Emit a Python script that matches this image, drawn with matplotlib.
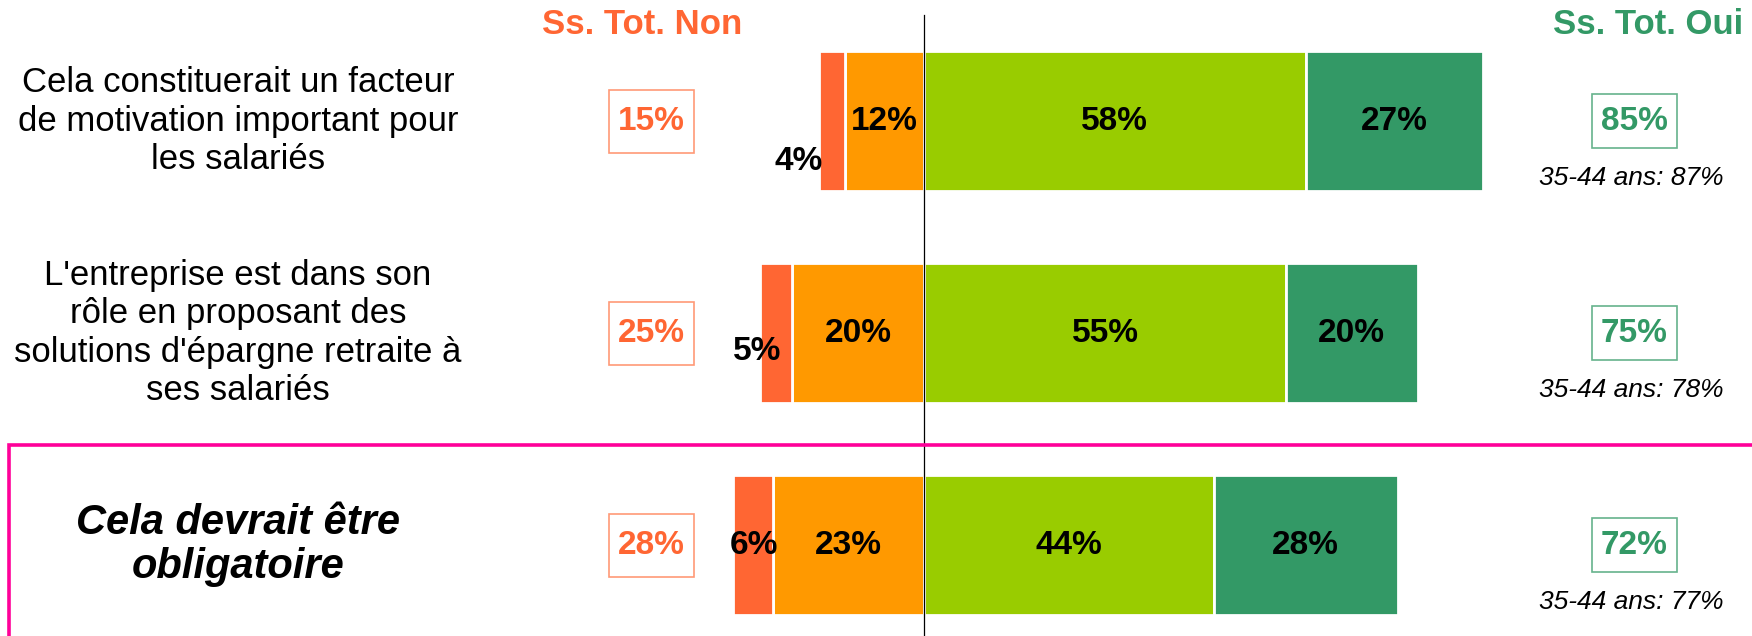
import numpy as np
import matplotlib
matplotlib.use("Agg")
import matplotlib.pyplot as plt
import matplotlib.transforms as mtransforms
from matplotlib.patches import Rectangle

plt.rcParams["font.family"] = ["Liberation Sans", "DejaVu Sans"]

# data
statements = [
    "Cela constituerait un facteur\nde motivation important pour\nles salariés",
    "L'entreprise est dans son\nrôle en proposant des\nsolutions d'épargne retraite à\nses salariés",
    "Cela devrait être\nobligatoire",
]
pas_du_tout = [4, 5, 6]      # red
plutot_non = [12, 20, 23]    # orange
plutot_oui = [58, 55, 44]    # light green
tout_a_fait = [27, 20, 28]   # dark green
total_non = [15, 25, 28]
total_oui = [85, 75, 72]
sub_labels = ["35-44 ans: 87%", "35-44 ans: 78%", "35-44 ans: 77%"]

RED = "#FF6633"
ORANGE = "#FF9900"
LGREEN = "#99CC00"
DGREEN = "#339966"
MAGENTA = "#FF0099"

W, H = 1752, 636
PX_PER_PCT = 6.58
X0 = 924          # pixel x of the zero line
ROW0, ROWSTEP = 121, 212

fig = plt.figure(figsize=(W / 100, H / 100), dpi=100)
ax = fig.add_axes([0, 0, 1, 1])
ax.set_xlim(-X0 / PX_PER_PCT, (W - X0) / PX_PER_PCT)
ax.set_ylim((H - ROW0) / ROWSTEP, -ROW0 / ROWSTEP)
ax.axis("off")

y = np.arange(len(statements))
red = np.array(pas_du_tout)
ora = np.array(plutot_non)
lg = np.array(plutot_oui)
dg = np.array(tout_a_fait)

bh = 0.66
kw = dict(height=bh, edgecolor="white", linewidth=2)
ax.barh(y, ora, left=-ora, color=ORANGE, **kw)
ax.barh(y, red, left=-ora - red, color=RED, **kw)
ax.barh(y, lg, left=0, color=LGREEN, **kw)
ax.barh(y, dg, left=lg, color=DGREEN, **kw)

ax.axvline(0, ymin=0, ymax=1 - 15 / H, color="black", lw=0.9, zorder=5)

lab = dict(ha="center", va="center", fontsize=24, fontweight="bold", color="black", zorder=6)
# small red values sit a bit off their bar
red_dx = [-5.1, -2.9, 0.2]
red_dy = [0.19, 0.085, 0.0]
for i in range(len(y)):
    ax.text(-ora[i] / 2, y[i], f"{ora[i]}%", **lab)
    ax.text(-ora[i] - red[i] / 2 + red_dx[i], y[i] + red_dy[i], f"{red[i]}%", **lab)
    ax.text(lg[i] / 2, y[i], f"{lg[i]}%", **lab)
    ax.text(lg[i] + dg[i] / 2, y[i], f"{dg[i]}%", **lab)

trans = mtransforms.blended_transform_factory(ax.transAxes, ax.transData)

box_w = 85 / W
left_h, right_h = 63 / ROWSTEP, 54 / ROWSTEP
lx, rx = 651 / W, 1634 / W

for i, s in enumerate(statements):
    if i == 2:
        ax.text(238 / W, y[i], s, transform=trans, ha="center", va="center",
                fontsize=30, fontweight="bold", fontstyle="italic", linespacing=1.12)
    else:
        ax.text(238 / W, y[i], s, transform=trans, ha="center", va="center",
                fontsize=25, linespacing=1.2)

    ax.add_patch(Rectangle((lx - box_w / 2, y[i] - left_h / 2), box_w, left_h,
                           transform=trans, fill=False, ec="#FF9977", lw=1.2))
    ax.text(lx, y[i], f"{total_non[i]}%", transform=trans, ha="center", va="center",
            fontsize=24, fontweight="bold", color=RED)

    ax.add_patch(Rectangle((rx - box_w / 2, y[i] - right_h / 2), box_w, right_h,
                           transform=trans, fill=False, ec="#66B38C", lw=1.2))
    ax.text(rx, y[i], f"{total_oui[i]}%", transform=trans, ha="center", va="center",
            fontsize=24, fontweight="bold", color=DGREEN)
    ax.text(1631 / W, y[i] + 0.27, sub_labels[i], transform=trans, ha="center", va="center",
            fontsize=19, fontstyle="italic")

fig.text(642 / W, 1 - 25 / H, "Ss. Tot. Non", ha="center", va="center",
         fontsize=25, fontweight="bold", color=RED)
fig.text(1648 / W, 1 - 25 / H, "Ss. Tot. Oui", ha="center", va="center",
         fontsize=25, fontweight="bold", color=DGREEN)

frame = Rectangle((9 / W, -0.1), 1.2, 0.1 + 1 - 445 / H, transform=fig.transFigure,
                  fill=False, ec=MAGENTA, lw=2.6, clip_on=False)
fig.patches.append(frame)

fig.savefig("out.png", dpi=100)
